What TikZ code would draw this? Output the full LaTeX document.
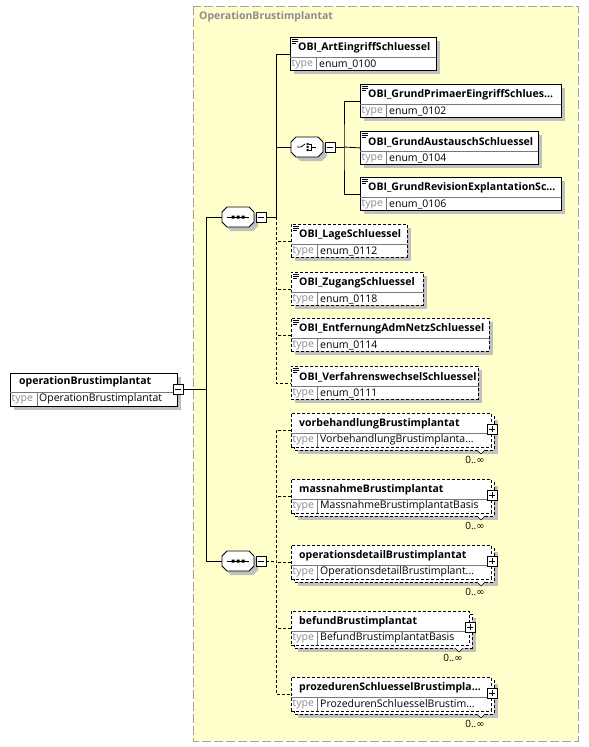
\documentclass[tikz,border=0pt]{standalone}
\usepackage{fontspec}
\setmainfont{Open Sans}
\newfontfamily\symf{DejaVu Sans}
\definecolor{grp}{RGB}{255,255,204}
\definecolor{grpline}{RGB}{160,160,160}
\definecolor{shd}{RGB}{192,192,192}
\definecolor{tgray}{RGB}{140,140,140}
\definecolor{divgray}{RGB}{120,120,120}
\tikzset{
  ln/.style={line width=0.8pt},
  dsh/.style={dash pattern=on 3pt off 2pt},
  elbox/.style={draw,fill=white,ln,inner sep=0pt,anchor=north west},
  divl/.style={divgray,line width=0.7pt},
  iconl/.style={line width=0.6pt},
  nametxt/.style={anchor=west,inner sep=0pt,font=\fontsize{10.5}{12}\selectfont\bfseries},
  typelbl/.style={anchor=west,inner sep=0pt,text=tgray,font=\fontsize{10.5}{12}\selectfont},
  typetxt/.style={anchor=west,inner sep=0pt,font=\fontsize{10.5}{12}\selectfont},
  multtxt/.style={inner sep=0pt,font=\fontsize{10}{11}\selectfont},
  pmbox/.style={draw,fill=white,ln,minimum size=10pt,inner sep=0pt},
  minusbox/.style={pmbox,path picture={\draw[ln] ([xshift=-3pt]path picture bounding box.center) -- ([xshift=3pt]path picture bounding box.center);}},
  plusbox/.style={pmbox,path picture={\draw[ln] ([xshift=-3pt]path picture bounding box.center) -- ([xshift=3pt]path picture bounding box.center) ([yshift=-3pt]path picture bounding box.center) -- ([yshift=3pt]path picture bounding box.center);}},
  conn/.style={ln},
}
% simple element: name, x, y, width, title, type, style
\newcommand\simpleel[7]{%
  \fill[shd] (#2+4,#3+4) rectangle (#2+#4+4,#3+37);
  \node[elbox,#7,minimum width=#4,minimum height=33] (#1) at (#2,#3) {};
  \draw[divl] (#2,#3+20) -- (#2+#4,#3+20) (#2+26,#3+20) -- (#2+26,#3+33);
  \draw[iconl] (#2+2,#3+2) -- ++(6,0) (#2+2,#3+4) -- ++(6,0) (#2+2,#3+6) -- ++(4,0);
  \node[nametxt] at (#2+8,#3+11) {#5};
  \node[typelbl] at (#2+1.5,#3+27) {type};
  \node[typetxt] at (#2+29,#3+27) {#6};
}
% multiple element: name, x, y, width, title, type
\newcommand\multiel[6]{%
  \fill[shd] (#2+7,#3+7) rectangle (#2+#4+7,#3+41);
  \draw[ln,dsh,fill=white] (#2+3,#3+3) rectangle (#2+#4+3,#3+37);
  \node[elbox,dsh,minimum width=#4,minimum height=34] (#1) at (#2,#3) {};
  \draw[divl] (#2,#3+20) -- (#2+#4,#3+20) (#2+26,#3+20) -- (#2+26,#3+34);
  \node[nametxt] at (#2+8,#3+11) {#5};
  \node[typelbl] at (#2+1.5,#3+27) {type};
  \node[typetxt] at (#2+29,#3+27) {#6};
  \node[plusbox] (#1p) at (#2+#4+1,#3+16) {};
  \filldraw[fill=white,line width=0.6pt] (#2+#4-14,#3+37) -- (#2+#4-10,#3+41) -- (#2+#4-6,#3+37);
  \node[multtxt] (#1m) at (#2+#4-16,#3+47) {0..{\symf ∞}};
}
% octagon compositor: name, cx, cy
\newcommand\octo[3]{%
  \fill[shd] (#2-7,#3-6) -- (#2+15,#3-6) -- (#2+20,#3-1) -- (#2+20,#3+9) -- (#2+15,#3+14) -- (#2-7,#3+14) -- (#2-12,#3+9) -- (#2-12,#3-1) -- cycle;
  \draw[ln,fill=white] (#2-11,#3-10) -- (#2+11,#3-10) -- (#2+16,#3-5) -- (#2+16,#3+5) -- (#2+11,#3+10) -- (#2-11,#3+10) -- (#2-16,#3+5) -- (#2-16,#3-5) -- cycle;
  \node[minimum width=32pt,minimum height=20pt,inner sep=0pt] (#1) at (#2,#3) {};
}
\newcommand\seqglyph[2]{%
  \draw[ln] (#1-11,#2) -- (#1+11,#2);
  \fill (#1-6.5,#2-1.5) rectangle ++(3,3) (#1-1.5,#2-1.5) rectangle ++(3,3) (#1+3.5,#2-1.5) rectangle ++(3,3);
}
\newcommand\choiceglyph[2]{%
  \draw[ln] (#1-10,#2) -- (#1-6,#2) -- (#1-2,#2-3);
  \fill (#1-0.5,#2-4) rectangle ++(2,2) (#1-0.5,#2-1) rectangle ++(2,2) (#1-0.5,#2+2) rectangle ++(2,2);
  \draw[line width=0.7pt] (#1+1.5,#2-3) -- (#1+4,#2-3) -- (#1+4,#2+3) -- (#1+1.5,#2+3) (#1+4,#2) -- (#1+9,#2);
}
\begin{document}
\begin{tikzpicture}[x=1pt,y=-1pt]
\useasboundingbox[fill=white] (0,0) rectangle (589,747);
% group
\draw[fill=grp,draw=grpline,line width=1pt,dash pattern=on 9pt off 3pt] (193,6) rectangle (578,741);
\node[anchor=west,inner sep=0pt,text=tgray,font=\fontsize{10.5}{12}\selectfont\bfseries] (gtitle) at (199,17) {OperationBrustimplantat};

% root element
\fill[shd] (14,377) rectangle (181,410);
\node[elbox,minimum width=167,minimum height=33] (root) at (10,373) {};
\draw[divl] (10,392) -- (177,392) (37,392) -- (37,406);
\node[nametxt] at (19,382) {operationBrustimplantat};
\node[typelbl] at (11.5,399) {type};
\node[typetxt] at (39,399) {OperationBrustimplantat};
\node[minusbox] (rootm) at (178,389) {};

% compositors
\octo{seqA}{238}{217}\seqglyph{238}{217}
\node[minusbox] (seqAm) at (261,217) {};
\octo{cho}{307}{147}\choiceglyph{307}{147}
\node[minusbox] (chom) at (330,147) {};
\octo{seqB}{238}{561}\seqglyph{238}{561}
\node[minusbox] (seqBm) at (261,561) {};

% elements
\simpleel{art}{290}{37}{146}{OBI\_ArtEingriffSchluessel}{enum\_0100}{}
\simpleel{prim}{360}{84}{201}{OBI\_GrundPrimaerEingriffSchlues...}{enum\_0102}{}
\simpleel{aus}{360}{131}{178}{OBI\_GrundAustauschSchluessel}{enum\_0104}{}
\simpleel{rev}{360}{177}{201}{OBI\_GrundRevisionExplantationSc...}{enum\_0106}{}
\simpleel{lage}{291}{224}{116}{OBI\_LageSchluessel}{enum\_0112}{dsh}
\simpleel{zug}{291}{272}{132}{OBI\_ZugangSchluessel}{enum\_0118}{dsh}
\simpleel{entf}{291}{318}{198}{OBI\_EntfernungAdmNetzSchluessel}{enum\_0114}{dsh}
\simpleel{verf}{291}{366}{187}{OBI\_VerfahrenswechselSchluessel}{enum\_0111}{dsh}

\multiel{vorb}{291}{413}{200}{vorbehandlungBrustimplantat}{VorbehandlungBrustimplanta...}
\multiel{mass}{291}{479}{200}{massnahmeBrustimplantat}{MassnahmeBrustimplantatBasis}
\multiel{opd}{291}{545}{200}{operationsdetailBrustimplantat}{OperationsdetailBrustimplant...}
\multiel{bef}{291}{611}{178}{befundBrustimplantat}{BefundBrustimplantatBasis}
\multiel{proz}{291}{677}{200}{prozedurenSchluesselBrustimpla...}{ProzedurenSchluesselBrustim...}

% connectors
\coordinate (trunk) at (206,217);
\coordinate (busA) at (276,217);
\coordinate (busC) at (344,147);
\coordinate (busB) at (276,561);
\draw[conn] (rootm.east) -- (rootm.east -| trunk);
\draw[conn] (seqA.west) -- (trunk) |- (seqB.west);
\draw[conn] (seqAm.east) -- (busA);
\draw[conn] (art.west) -| (busA);
\draw[conn] (cho.west) -- (cho.west -| busA);
\draw[conn,dsh] (busA) |- (verf.west);
\draw[conn,dsh] (lage.west) -- (lage.west -| busA);
\draw[conn,dsh] (zug.west) -- (zug.west -| busA);
\draw[conn,dsh] (entf.west) -- (entf.west -| busA);
\draw[conn] (chom.east) -- (busC);
\draw[conn] (prim.west) -| (busC) |- (rev.west);
\draw[conn] (aus.west) -- (busC);
\draw[conn,dsh] (seqBm.east) -- (busB);
\draw[conn,dsh] (vorb.west) -| (busB) |- (proz.west);
\draw[conn,dsh] (mass.west) -- (mass.west -| busB);
\draw[conn,dsh] (opd.west) -- (opd.west -| busB);
\draw[conn,dsh] (bef.west) -- (bef.west -| busB);
\end{tikzpicture}
\end{document}
